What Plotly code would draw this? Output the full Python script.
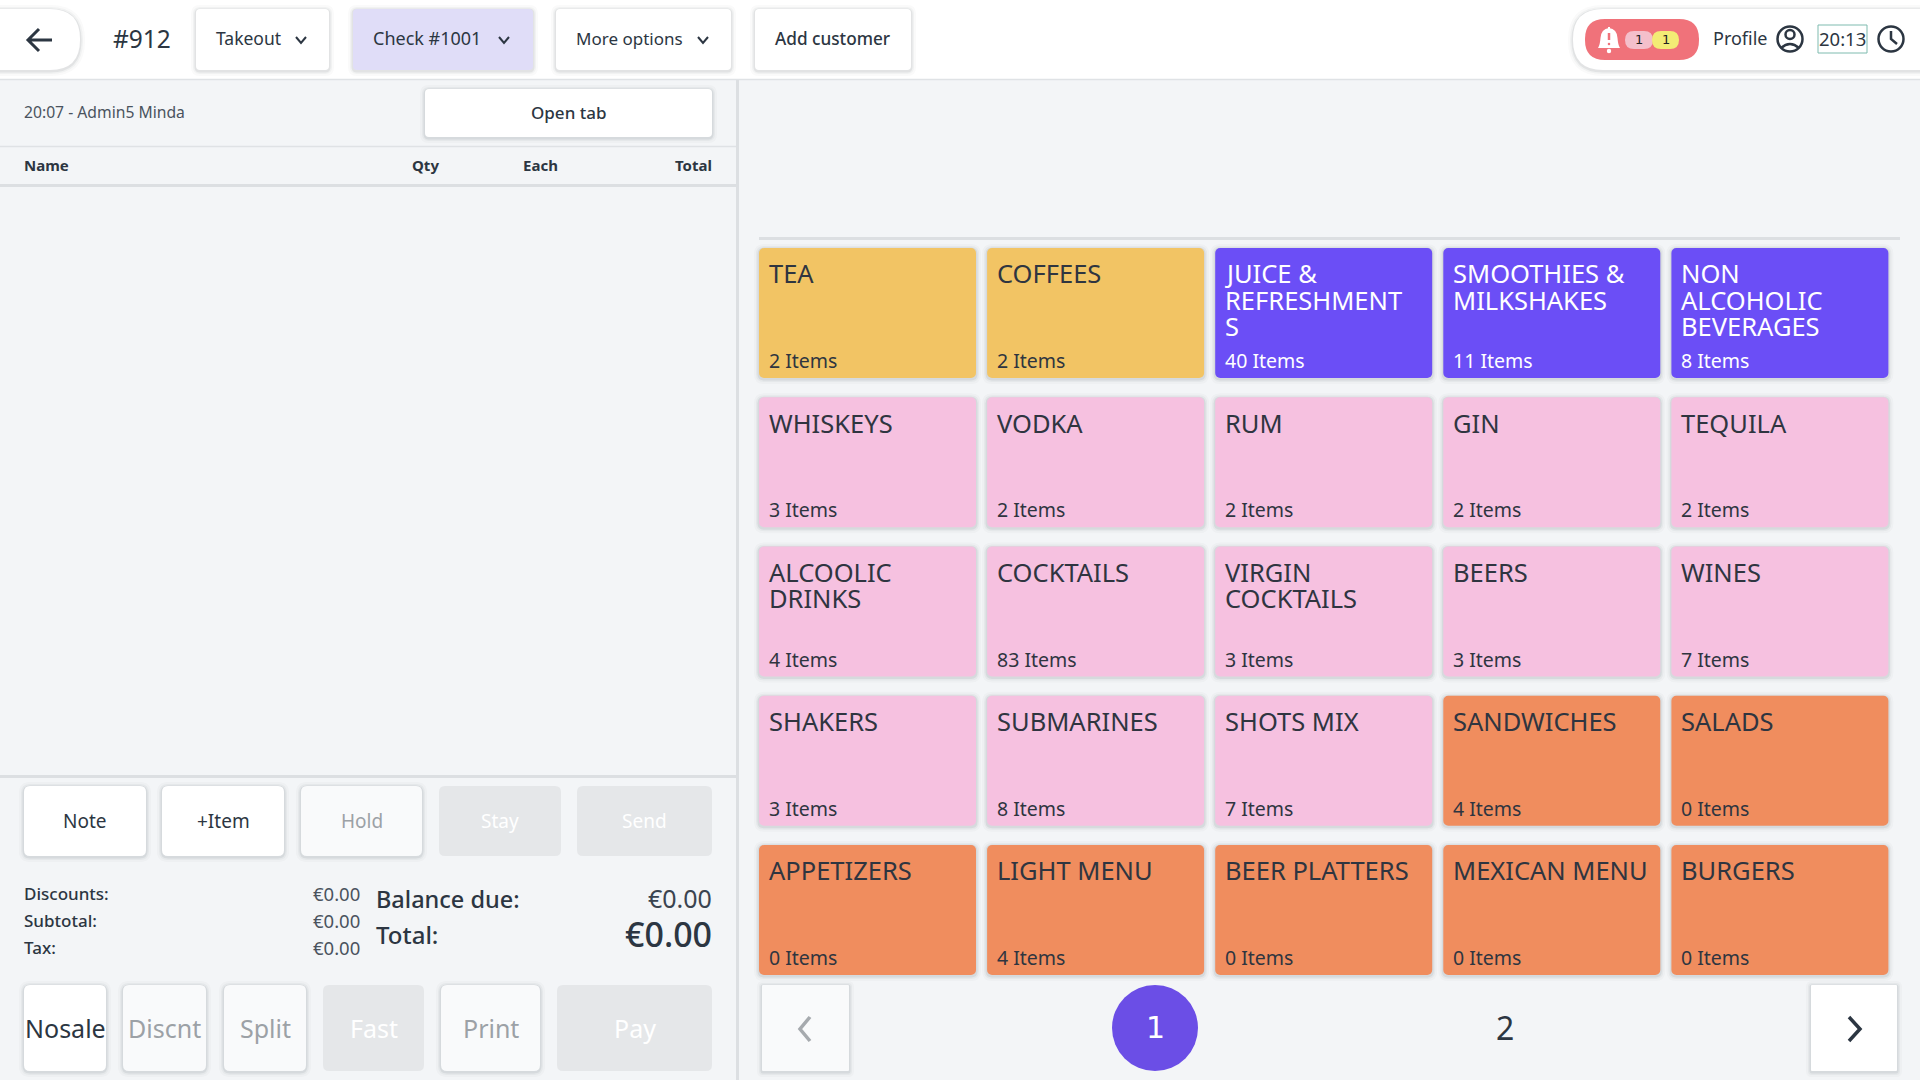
import plotly.graph_objects as go

# ---- data ----
categories = ["TEA", "COFFEES", "JUICE &|REFRESHMENT|S", "SMOOTHIES &|MILKSHAKES", "NON|ALCOHOLIC|BEVERAGES",
              "WHISKEYS", "VODKA", "RUM", "GIN", "TEQUILA",
              "ALCOOLIC|DRINKS", "COCKTAILS", "VIRGIN|COCKTAILS", "BEERS", "WINES",
              "SHAKERS", "SUBMARINES", "SHOTS MIX", "SANDWICHES", "SALADS",
              "APPETIZERS", "LIGHT MENU", "BEER PLATTERS", "MEXICAN MENU", "BURGERS"]
item_counts = [2, 2, 40, 11, 8,
               3, 2, 2, 2, 2,
               4, 83, 3, 3, 7,
               3, 8, 7, 4, 0,
               0, 4, 0, 0, 0]
groups = ["hot", "hot", "soft", "soft", "soft",
          "bar", "bar", "bar", "bar", "bar",
          "bar", "bar", "bar", "bar", "bar",
          "bar", "bar", "bar", "food", "food",
          "food", "food", "food", "food", "food"]
top_buttons = ["Takeout", "Check #1001", "More options", "Add customer"]
table_headers = ["Name", "Qty", "Each", "Total"]
action_row_1 = ["Note", "+Item", "Hold", "Stay", "Send"]
action_row_2 = ["Nosale", "Discnt", "Split", "Fast", "Print", "Pay"]
summary_labels = ["Discounts:", "Subtotal:", "Tax:"]
summary_values = ["€0.00", "€0.00", "€0.00"]
pages = ["1", "2"]

# ---- style and layout ----
FONT = "Noto Sans"
BG, INK = "#F3F5F7", "#2C3642"
GROUP_FILL = {"hot": "#F2C464", "soft": "#6B4EF6", "bar": "#F6C1E0", "food": "#F08D5E"}
GROUP_TEXT = {"hot": "#2F3540", "soft": "#FFFFFF", "bar": "#2F3540", "food": "#2F3540"}
COLS = 5
PITCH_X, PITCH_Y = 228.1, 149.25
TILE_W, TILE_H = 217.0, 130.0
GRID_X, GRID_Y = 759.0, 248.0
TEXT_LIFT = 1.0
w_u, h_u = TILE_W / PITCH_X, TILE_H / PITCH_Y

cols = [i % COLS for i in range(len(categories))]
rows = [i // COLS for i in range(len(categories))]

shapes, notes = [], []


def rrect_path(x0, y0, x1, y1, r):
    return (f"M{x0+r},{y0} L{x1-r},{y0} Q{x1},{y0} {x1},{y0+r} L{x1},{y1-r} Q{x1},{y1} {x1-r},{y1} "
            f"L{x0+r},{y1} Q{x0},{y1} {x0},{y1-r} L{x0},{y0+r} Q{x0},{y0} {x0+r},{y0} Z")


def box(x0, y0, x1, y1, fill, r=5, shadow=True, line=None):
    if shadow:
        for grow, alpha in ((5, 0.025), (3, 0.04), (1.5, 0.07)):
            shapes.append(dict(type="path", layer="below",
                               path=rrect_path(x0 - grow, y0 - grow + 1, x1 + grow, y1 + grow + 1, r + grow),
                               fillcolor=f"rgba(30,40,50,{alpha})", line=dict(width=0)))
    shapes.append(dict(type="path", layer="below", path=rrect_path(x0, y0, x1, y1, r), fillcolor=fill,
                       line=dict(width=1, color=line) if line else dict(width=0)))


def rule(x0, y0, x1, y1, color="#DFE2E5", width=1.5):
    shapes.append(dict(type="line", layer="below", x0=x0, y0=y0, x1=x1, y1=y1, line=dict(color=color, width=width)))


def stroke(path, color=INK, width=2.5):
    shapes.append(dict(type="path", layer="below", path=path, line=dict(color=color, width=width),
                       fillcolor="rgba(0,0,0,0)"))


def disc(cx, cy, rx, ry=None, fill="rgba(0,0,0,0)", color=None, width=0):
    ry = ry or rx
    shapes.append(dict(type="circle", layer="below", x0=cx - rx, x1=cx + rx, y0=cy - ry, y1=cy + ry, fillcolor=fill,
                       line=dict(color=color or fill, width=width)))


def label(x, y, text, size, color=INK, anchor="left", weight=400, family=FONT):
    notes.append(dict(x=x, y=y - TEXT_LIFT, xref="x", yref="y", text=text, showarrow=False, xanchor=anchor,
                      yanchor="middle", font=dict(family=family, size=size, color=color, weight=weight),
                      borderpad=0, borderwidth=0))


def tile_label(col_u, row_u, text, size, color):
    notes.append(dict(x=col_u, y=row_u, xref="x2", yref="y2", text=text, showarrow=False, xanchor="left",
                      yanchor="middle", font=dict(family=FONT, size=size, color=color),
                      borderpad=0, borderwidth=0))


def chevron(cx, cy):
    stroke(f"M{cx-5},{cy-3} L{cx},{cy+3} L{cx+5},{cy-3}", width=2)


# ---- top bar ----
shapes.append(dict(type="rect", layer="below", x0=0, y0=0, x1=1920, y1=79, fillcolor="#FFFFFF", line=dict(width=0)))
rule(0, 79.5, 1920, 79.5)
box(-40, 9, 80, 70, "#FFFFFF", r=30)
stroke("M52,40 L28,40 M39,29 L28,40 L39,51", width=3)
label(142, 39.5, "#912", 24.5, anchor="center")
for (x0, x1), txt, fill, tx, cx, fs, fw in zip(((196, 329), (353, 533), (556, 731), (755, 911)), top_buttons,
                                               ("#FFFFFF", "#E0DDF8", "#FFFFFF", "#FFFFFF"),
                                               (216, 373, 576, 775), (301, 504, 703, None),
                                               (17.5, 18, 17, 17.2), (400, 400, 400, 500)):
    box(x0, 9, x1, 70, fill, r=4)
    label(tx, 39, txt, fs, weight=fw)
    if cx:
        chevron(cx, 40)

box(1573, 9, 2000, 70, "#FFFFFF", r=30)
box(1585, 19, 1699, 60, "#F0727A", r=20, shadow=False)
stroke("M1609,27 L1609,29", "#FFFFFF", 2)
shapes.append(dict(type="path", layer="below",
                   path="M1609,28 Q1601,29 1600.5,38 Q1600,45 1598,48 L1620,48 Q1618,45 1617.5,38 Q1617,29 1609,28 Z",
                   fillcolor="#FFFFFF", line=dict(width=0)))
disc(1609, 51, 2.2, fill="#FFFFFF")
stroke("M1609,33 L1609,40", "#F0727A", 2.5)
disc(1609, 44, 1.3, fill="#F0727A")
box(1625, 31, 1653, 49, "#F4BFCB", r=9, shadow=False)
box(1652, 31, 1679, 49, "#F3EC75", r=9, shadow=False)
label(1639, 40.5, "1", 13, color="#222222", anchor="center", family="DejaVu Sans")
label(1666, 40.5, "1", 13, color="#222222", anchor="center", family="DejaVu Sans")
label(1713, 39, "Profile", 18)
disc(1790, 39, 12.5, color=INK, width=2.5)
disc(1790, 34.5, 4.5, color=INK, width=2.5)
stroke("M1781,48 Q1790,40 1799,48", width=2.5)
shapes.append(dict(type="rect", layer="below", x0=1818, x1=1867, y0=25, y1=53, fillcolor="#FFFFFF",
                   line=dict(color="#7FBBAF", width=1)))
label(1842.5, 39, "20:13", 18.5, anchor="center")
disc(1891, 39, 12.5, color=INK, width=2.5)
stroke("M1891,31 L1891,39 L1897,44", width=2.5)

# ---- left panel ----
rule(737.5, 80, 737.5, 1080, "#DCDFE2", 3)
label(24, 113, "20:07 - Admin5 Minda", 15.7, color="#4A535E")
box(425, 89, 712, 137, "#FFFFFF", r=4)
label(568, 113, "Open tab", 17, anchor="center", weight=500)
rule(0, 146.5, 736, 146.5)
label(24, 166, table_headers[0], 15, weight=700)
label(425, 166, table_headers[1], 15, anchor="center", weight=700)
label(540, 166, table_headers[2], 15, anchor="center", weight=700)
label(712, 166, table_headers[3], 15, anchor="right", weight=700)
rule(0, 185.5, 736, 185.5, "#DCDFE2", 3)
rule(0, 776.5, 736, 776.5, "#DCDFE2", 3)

WHITE, SOFT, GREY = "#FFFFFF", "#F9FAFB", "#E5E7E9"
for (x0, x1), txt, fill, color in zip(((24, 146), (162, 284), (301, 422), (439, 561), (577, 712)), action_row_1,
                                      (WHITE, WHITE, SOFT, GREY, GREY),
                                      (INK, INK, "#9CA1A6", "#FFFFFF", "#FFFFFF")):
    box(x0, 786, x1, 856, fill, r=6, shadow=fill != GREY)
    label((x0 + x1) / 2, 822, txt, 19, color=color, anchor="center")
for (x0, x1), txt, fill, color in zip(((24, 106), (123, 206), (224, 306), (323, 424), (441, 540), (557, 712)), action_row_2,
                                      (WHITE, SOFT, SOFT, GREY, SOFT, GREY),
                                      (INK, "#9CA1A6", "#9CA1A6", "#FFFFFF", "#9CA1A6", "#FFFFFF")):
    box(x0, 985, x1, 1071, fill, r=6, shadow=fill != GREY)
    label((x0 + x1) / 2, 1029, txt, 25, color=color, anchor="center")
for y, a, b in zip((894, 921, 948), summary_labels, summary_values):
    label(24, y, a, 17, weight=500)
    label(360, y, b, 18.5, color="#4A535E", anchor="right")
label(376, 900, "Balance due:", 23.5, weight=500)
label(712, 899, summary_values[0], 25, color="#3A4450", anchor="right")
label(376, 935, "Total:", 24, weight=500)
label(712, 935, summary_values[0], 34, anchor="right", weight=500)

# ---- right panel: tiles, drawn on a grid axis in column/row units ----
rule(759, 238.5, 1900, 238.5, "#DCDFE2", 3)
for c, r in zip(cols, rows):
    x0, y0 = GRID_X + c * PITCH_X, GRID_Y + r * PITCH_Y
    box(x0, y0, x0 + TILE_W, y0 + TILE_H, "rgba(0,0,0,0)", r=5)

tiles = go.Bar(x=[c + w_u / 2 for c in cols], y=[h_u] * len(rows), base=rows, width=w_u,
               xaxis="x2", yaxis="y2",
               marker=dict(color=[GROUP_FILL[g] for g in groups], line=dict(width=0), opacity=1, cornerradius=5),
               hoverinfo="skip", showlegend=False)

for name, n, g, c, r in zip(categories, item_counts, groups, cols, rows):
    tx = c + 10 / PITCH_X
    for k, part in enumerate(name.split("|")):
        tile_label(tx, r + (25.3 + k * 26.5) / PITCH_Y, part, 25.5, GROUP_TEXT[g])
    tile_label(tx, r + 112.5 / PITCH_Y, f"{n} Items", 19.5, GROUP_TEXT[g])

# ---- pager ----
box(762, 985, 849, 1071, SOFT, r=1)
stroke("M810,1017 L800,1029 L810,1041", "#A6AAAE", 3.5)
disc(1155, 1028, 43, fill="#6B4EE6")
label(1155, 1028, pages[0], 30, color="#FFFFFF", anchor="center", family="DejaVu Sans")
label(1504.5, 1028, pages[1], 32, anchor="center")
box(1811, 985, 1897, 1071, "#FFFFFF", r=1)
stroke("M1849,1017 L1860,1029 L1849,1041", INK, 3.5)

fig = go.Figure([tiles])
fig.update_layout(
    width=1920, height=1080, autosize=False, margin=dict(l=0, r=0, t=0, b=0),
    paper_bgcolor=BG, plot_bgcolor=BG, barmode="overlay", showlegend=False,
    shapes=shapes, annotations=notes, font=dict(family=FONT),
    xaxis=dict(range=[0, 1920], visible=False, domain=[0, 1], fixedrange=True),
    yaxis=dict(range=[1080, 0], visible=False, domain=[0, 1], fixedrange=True),
    xaxis2=dict(range=[-GRID_X / PITCH_X, (1920 - GRID_X) / PITCH_X], visible=False, overlaying="x", fixedrange=True),
    yaxis2=dict(range=[(1080 - GRID_Y) / PITCH_Y, -GRID_Y / PITCH_Y], visible=False, overlaying="y", fixedrange=True),
)
fig.write_html("out.html", config=dict(displayModeBar=False),
               post_script="document.body.style.margin='0';document.body.style.overflow='hidden';")
